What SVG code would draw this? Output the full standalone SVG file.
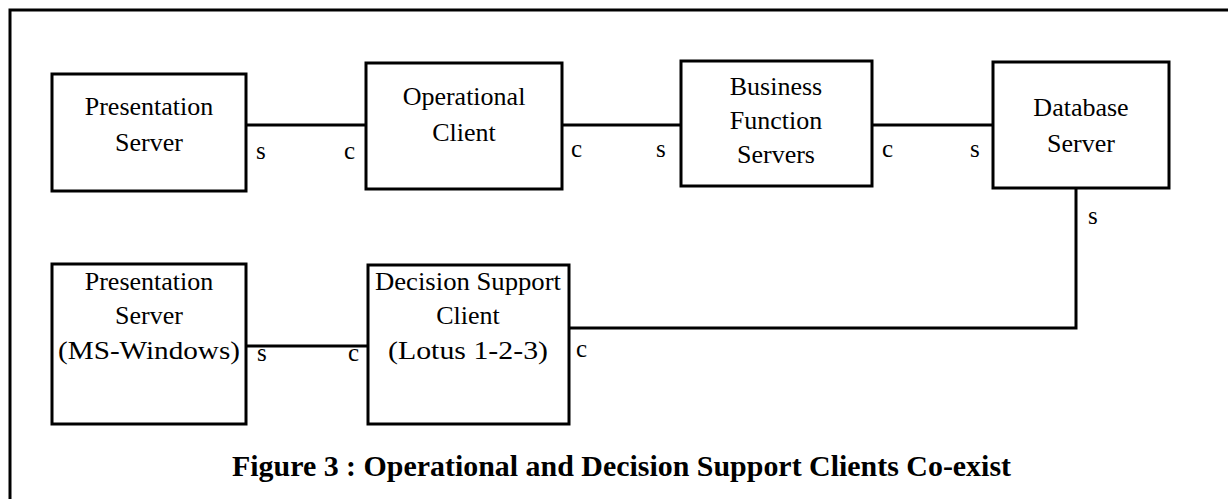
<svg xmlns="http://www.w3.org/2000/svg" width="1228" height="499" viewBox="0 0 1228 499">
<style>
.box{fill:#fff;stroke:#000;stroke-width:3}
.ln{fill:none;stroke:#000;stroke-width:3}
.t{font-family:"Liberation Serif","Times New Roman",serif;font-size:26px;fill:#000;text-anchor:middle}
.lb{font-family:"Liberation Serif","Times New Roman",serif;font-size:25px;fill:#000}
.cap{font-family:"Liberation Serif","Times New Roman",serif;font-size:29px;font-weight:bold;fill:#000}
</style>
<rect width="1228" height="499" fill="#fff"/>
<path class="ln" d="M10,499 V10 H1228"/>
<g id="connectors">
<line class="ln" x1="246" y1="125" x2="366" y2="125"/>
<line class="ln" x1="562" y1="125" x2="681" y2="125"/>
<line class="ln" x1="872" y1="125" x2="993" y2="125"/>
<path class="ln" d="M1076,188 V328 H569"/>
<line class="ln" x1="246" y1="346" x2="368" y2="346"/>
<text class="lb" x="256" y="159">s</text>
<text class="lb" x="344" y="159">c</text>
<text class="lb" x="571" y="157">c</text>
<text class="lb" x="656" y="157">s</text>
<text class="lb" x="882" y="157">c</text>
<text class="lb" x="970" y="157">s</text>
<text class="lb" x="1088" y="224">s</text>
<text class="lb" x="257" y="361">s</text>
<text class="lb" x="348" y="361">c</text>
<text class="lb" x="576" y="357">c</text>
</g>
<g id="presentation-server">
<rect class="box" x="52" y="74" width="194" height="117"/>
<text class="t" x="149" y="115">Presentation</text>
<text class="t" x="149" y="151">Server</text>
</g>
<g id="operational-client">
<rect class="box" x="366" y="63" width="196" height="126"/>
<text class="t" x="464" y="105">Operational</text>
<text class="t" x="464" y="141">Client</text>
</g>
<g id="business-function-servers">
<rect class="box" x="681" y="61" width="191" height="125"/>
<text class="t" x="776" y="95">Business</text>
<text class="t" x="776" y="129">Function</text>
<text class="t" x="776" y="163">Servers</text>
</g>
<g id="database-server">
<rect class="box" x="993" y="62" width="176" height="126"/>
<text class="t" x="1081" y="116">Database</text>
<text class="t" x="1081" y="152">Server</text>
</g>
<g id="presentation-server-mswindows">
<rect class="box" x="52" y="264" width="194" height="160"/>
<text class="t" x="149" y="290">Presentation</text>
<text class="t" x="149" y="324">Server</text>
<text class="t" x="149" y="359" textLength="182" lengthAdjust="spacingAndGlyphs">(MS-Windows)</text>
</g>
<g id="decision-support-client">
<rect class="box" x="368" y="265" width="201" height="159"/>
<text class="t" x="468" y="290" textLength="186" lengthAdjust="spacingAndGlyphs">Decision Support</text>
<text class="t" x="468" y="324">Client</text>
<text class="t" x="468" y="359" textLength="160" lengthAdjust="spacingAndGlyphs">(Lotus 1-2-3)</text>
</g>
<text class="cap" x="232" y="476" textLength="779" lengthAdjust="spacingAndGlyphs">Figure 3 : Operational and Decision Support Clients Co-exist</text>
</svg>
